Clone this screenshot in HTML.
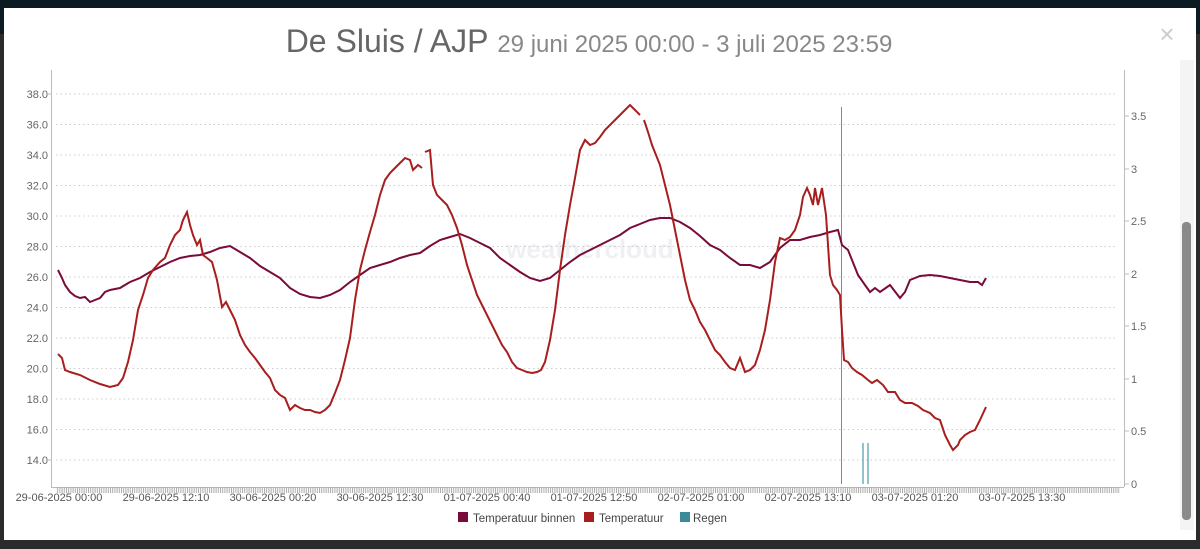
<!DOCTYPE html>
<html><head><meta charset="utf-8"><style>
body{margin:0;width:1200px;height:549px;background:#2b2b2b;overflow:hidden;font-family:"Liberation Sans",sans-serif}
</style></head><body>
<svg width="1200" height="549" xmlns="http://www.w3.org/2000/svg" style="position:absolute;left:0;top:0">
<rect x="0" y="0" width="1200" height="34" fill="#0c1a24"/>
<rect x="4" y="8" width="1192" height="532" fill="#fff"/>
<rect x="1180" y="60" width="14" height="470" fill="#f4f4f4"/>
<rect x="1182" y="222" width="9" height="298" rx="4" fill="#8a8a8a"/>
<text x="1167" y="43" font-size="26" fill="#ccc" text-anchor="middle">×</text>
<text x="589" y="52" text-anchor="middle" font-size="32" fill="#666" font-family="Liberation Sans, sans-serif"><tspan font-weight="300">De Sluis / AJP</tspan> <tspan font-size="24" fill="#888">29 juni 2025 00:00 - 3 juli 2025 23:59</tspan></text>
<text x="590" y="258" text-anchor="middle" font-size="26" fill="#eef0f4" font-weight="bold">weathercloud</text>
<g stroke="#ccc" stroke-dasharray="1.5,3" stroke-width="1">
<line x1="56" x2="1118" y1="94" y2="94"/><line x1="56" x2="1118" y1="124.5" y2="124.5"/><line x1="56" x2="1118" y1="155" y2="155"/><line x1="56" x2="1118" y1="185.5" y2="185.5"/><line x1="56" x2="1118" y1="216" y2="216"/><line x1="56" x2="1118" y1="246.5" y2="246.5"/><line x1="56" x2="1118" y1="277" y2="277"/><line x1="56" x2="1118" y1="307.5" y2="307.5"/><line x1="56" x2="1118" y1="338" y2="338"/><line x1="56" x2="1118" y1="368.5" y2="368.5"/><line x1="56" x2="1118" y1="399" y2="399"/><line x1="56" x2="1118" y1="429.5" y2="429.5"/><line x1="56" x2="1118" y1="460" y2="460"/>
</g>
<g stroke="#bbb" stroke-width="1">
<line x1="51.5" y1="70" x2="51.5" y2="487"/><line x1="1124.5" y1="70" x2="1124.5" y2="487"/>
<line x1="51" y1="487.5" x2="1124" y2="487.5"/>
</g>
<defs><pattern id="tk" width="2.2" height="7" patternUnits="userSpaceOnUse"><rect width="1" height="7" fill="#aaa"/></pattern></defs>
<rect x="56" y="487" width="1064" height="6" fill="url(#tk)"/>
<g font-size="11" fill="#666" text-anchor="end">
<text x="48" y="98">38.0</text><text x="48" y="128.5">36.0</text><text x="48" y="159">34.0</text><text x="48" y="189.5">32.0</text><text x="48" y="220">30.0</text><text x="48" y="250.5">28.0</text><text x="48" y="281">26.0</text><text x="48" y="311.5">24.0</text><text x="48" y="342">22.0</text><text x="48" y="372.5">20.0</text><text x="48" y="403">18.0</text><text x="48" y="433.5">16.0</text><text x="48" y="464">14.0</text>
</g>
<g font-size="11" fill="#666">
<text x="1131" y="120">3.5</text><text x="1131" y="173">3</text><text x="1131" y="225">2.5</text><text x="1131" y="278">2</text><text x="1131" y="330">1.5</text><text x="1131" y="383">1</text><text x="1131" y="435">0.5</text><text x="1131" y="488">0</text>
</g>
<g stroke="#bbb"><line x1="1124" x2="1129" y1="116" y2="116"/><line x1="1124" x2="1129" y1="169" y2="169"/><line x1="1124" x2="1129" y1="221" y2="221"/><line x1="1124" x2="1129" y1="274" y2="274"/><line x1="1124" x2="1129" y1="326" y2="326"/><line x1="1124" x2="1129" y1="379" y2="379"/><line x1="1124" x2="1129" y1="431" y2="431"/><line x1="1124" x2="1129" y1="484" y2="484"/>
<line x1="46" x2="51" y1="94" y2="94"/><line x1="46" x2="51" y1="460" y2="460"/></g>
<g font-size="11" fill="#555" text-anchor="middle">
<text x="59" y="501">29-06-2025 00:00</text><text x="166" y="501">29-06-2025 12:10</text><text x="273" y="501">30-06-2025 00:20</text><text x="380" y="501">30-06-2025 12:30</text><text x="487" y="501">01-07-2025 00:40</text><text x="594" y="501">01-07-2025 12:50</text><text x="701" y="501">02-07-2025 01:00</text><text x="808" y="501">02-07-2025 13:10</text><text x="915" y="501">03-07-2025 01:20</text><text x="1022" y="501">03-07-2025 13:30</text>
</g>
<line x1="841.5" y1="107" x2="841.5" y2="484" stroke="#888" stroke-width="1"/>
<g stroke="#4a9aa8" stroke-width="1.2"><line x1="863" y1="443" x2="863" y2="484"/><line x1="868" y1="443" x2="868" y2="484"/></g>
<polyline fill="none" stroke="#7a0a3a" stroke-width="2" points="58,270 62,278 65,285 70,292 75,296 80,298 85,297 90,302 95,300 100,298 105,292 110,290 120,288 130,282 140,278 150,272 160,267 170,262 180,258 190,256 200,255 210,252 220,248 230,246 240,252 250,258 260,266 270,272 280,278 290,288 300,294 310,297 320,298 330,295 340,290 350,282 360,275 370,268 380,265 390,262 400,258 410,255 420,253 430,246 440,240 450,237 460,234 470,238 480,243 490,248 500,258 510,265 520,272 530,278 540,281 550,278 560,270 570,262 580,255 590,250 600,245 610,240 620,235 630,228 640,224 650,220 660,218 670,218 680,222 690,228 700,236 710,245 720,250 730,258 740,265 750,265 760,268 770,262 780,248 790,240 800,240 810,237 820,235 830,232 838,230 842,245 848,250 852,260 858,275 865,285 870,292 875,288 880,292 890,285 900,298 905,292 910,280 920,276 930,275 940,276 950,278 960,280 970,282 978,282 982,285 986,278"/>
<polyline fill="none" stroke="#a81e1e" stroke-width="2" points="58,354 62,358 65,370 70,372 80,375 90,380 100,384 110,387 118,385 123,378 128,362 133,340 138,310 143,295 148,278 153,270 160,262 165,258 170,245 175,235 180,230 183,220 187,212 190,225 193,235 197,245 200,240 203,255 207,258 212,262 217,280 222,307 226,302 230,310 235,320 240,335 245,345 250,352 255,358 260,365 265,372 270,378 275,390 280,395 285,398 290,410 295,405 300,408 305,410 310,410 315,412 320,413 325,410 330,405 335,393 340,380 345,360 350,338 355,300 360,270 365,250 370,232 375,215 380,195 385,180 390,173 395,168 400,163 405,158 410,160 413,170 418,165 422,168"/>
<polyline fill="none" stroke="#a81e1e" stroke-width="2" points="425,152 430,150 433,185 437,195 442,200 447,205 452,215 457,228 462,245 467,265 472,280 477,295 482,305 487,315 492,325 497,335 502,345 507,352 512,362 517,368 522,370 527,372 532,373 537,372 541,370 545,362 550,340 555,310 560,270 565,235 570,205 575,178 580,150 585,140 590,145 595,143 600,137 605,130 610,125 615,120 620,115 625,110 630,105 635,110 640,115"/>
<polyline fill="none" stroke="#a81e1e" stroke-width="2" points="644,120 648,132 652,145 656,155 660,165 665,185 670,205 675,230 680,255 685,280 690,300 695,310 700,322 705,330 710,340 715,350 720,355 725,362 730,368 735,370 740,358 745,372 750,370 755,365 760,350 765,330 770,300 775,262 780,238 785,240 790,237 795,230 800,215 803,197 807,188 810,195 813,205 815,188 818,205 822,188 826,215 828,245 830,275 833,285 837,290 840,295 842,330 844,360 848,362 852,368 857,372 862,375 868,380 872,383 877,380 883,385 888,392 895,392 900,400 905,403 912,403 918,406 923,410 930,413 935,418 940,420 945,435 950,445 953,450 958,445 960,440 965,435 970,432 975,430 980,420 986,407"/>
<g font-size="11.5" fill="#444">
<rect x="458" y="512" width="10" height="10" fill="#7a0a3a"/><text x="473" y="522">Temperatuur binnen</text>
<rect x="584" y="512" width="10" height="10" fill="#a81e1e"/><text x="599" y="522">Temperatuur</text>
<rect x="680" y="512" width="10" height="10" fill="#3a8a9a"/><text x="693" y="522">Regen</text>
</g>
</svg>
</body></html>
